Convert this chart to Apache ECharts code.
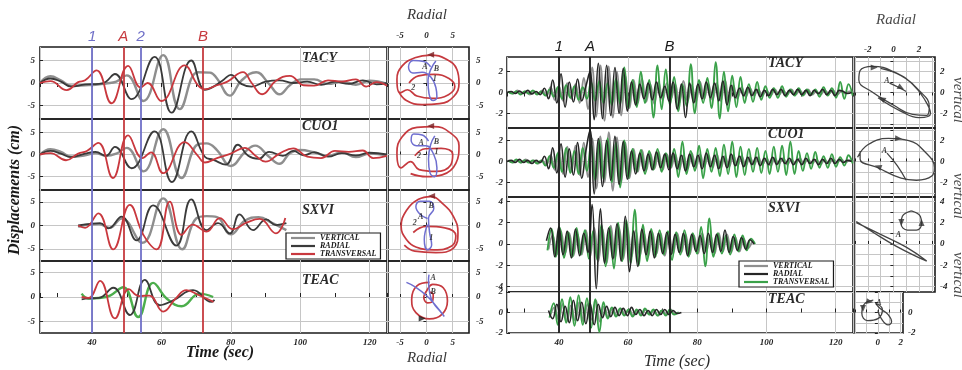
<!DOCTYPE html>
<html>
<head>
<meta charset="utf-8">
<script src="https://cdn.jsdelivr.net/npm/echarts@6/dist/echarts.min.js"></script>
<style>
html, body { margin: 0; padding: 0; background: #fff; }
#c { width: 962px; height: 370px; }
</style>
</head>
<body>
<div id="c"></div>
<script>
// ---------- shared data ----------
const stations = ['TACY', 'CUO1', 'SXVI', 'TEAC'];
const componentNames = ['VERTICAL', 'RADIAL', 'TRANSVERSAL'];
const timeRange = [25, 125];

// phase markers
const leftMarkTimes = [40, 49, 54, 72];
const leftMarkNames = ['1', 'A', '2', 'B'];
const rightMarkTimes = [40, 49, 72];
const rightMarkNames = ['1', 'A', 'B'];

// displacement axes (cm)
const leftRanges = [[-8, 8], [-8, 8], [-7.6, 7.6], [-7.4, 7.4]];
const leftTicks = [-5, 0, 5];
const rightRanges = [[-3.4, 3.4], [-3.4, 3.2], [-4.5, 4.4], [-2, 2]];
const rightTicks = [[-2, 0, 2], [-2, 0, 2], [-4, -2, 0, 2, 4], [-2, 0, 2]];
const rightPmLabels = [[-2, 0, 2], [-2, 0, 2], [-4, -2, 0, 2, 4], [-2, 0]];
const rightGridTicks = [[-3, -2, -1, 0, 1, 2, 3], [-3, -2, -1, 0, 1, 2, 3], [-4, -3, -2, -1, 0, 1, 2, 3, 4], [-2, -1, 0, 1, 2]];

// ---------- left event: [time s, displacement cm] ----------
const L_TACY_V = [[25,0],[28,1.5],[31,0.6],[34,-0.6],[38,-0.5],[41,-0.4],[44,-0.1],[47,0.3],[50,1.7],[54.8,-4.0],[60.5,6.2],[65.3,-5.8],[70.5,2.4],[74,2.3],[76,1.0],[79.7,-2.8],[83,0.5],[87.3,2.4],[91,-0.2],[94,-2.5],[97,-0.5],[100,0.8],[104,0.8],[108,-0.2],[112,0.3],[116,-0.4],[120,0.5],[125,-0.2]];
const L_TACY_R = [[25,0],[28,1.0],[31,0.3],[34,-0.8],[38,-0.3],[42,-0.2],[44,0.3],[46.6,2.0],[51.4,-3.6],[58,5.8],[62.9,-6.6],[68.6,5.0],[72.5,-1.5],[75,-0.8],[78,0.8],[80,1.8],[83,-0.2],[86,-0.8],[90,0.3],[94,0.6],[98,0.0],[102,0.3],[106,-0.4],[110,0.3],[114,-0.2],[118,0.6],[122,-0.3],[125,0]];
const L_TACY_T = [[25,0],[28,0.4],[32.7,-1.6],[36,0.2],[38,0.6],[41.3,2.8],[45.6,-4.5],[50.4,3.8],[54,-1.0],[56,0.0],[60,-4.0],[66.7,3.9],[70.5,-0.5],[72.5,-1.4],[76,-0.5],[79,0.3],[83.5,2.4],[86,0.0],[89,-2.5],[93,0.5],[97,1.6],[101,-0.5],[104,-0.6],[108,0.6],[112,0.3],[116,0.8],[119,-0.8],[122,0.2],[125,-0.6]];

const L_CUO1_V = [[25,0],[28,1.2],[31,0.6],[34,-0.5],[38,-0.2],[41,0.3],[44,-0.3],[47,0.2],[50,1.5],[54.8,-3.8],[60.5,5.7],[65.8,-5.3],[70.5,2.3],[73,2.5],[76,1.0],[80,-2.6],[84,0.5],[87,2.0],[91,-0.5],[94,-2.1],[97,0.3],[100,1.0],[104,0.5],[108,-0.3],[112,0.5],[116,-0.6],[120,0.2],[125,-0.2]];
const L_CUO1_R = [[25,0],[28,0.8],[31,0.2],[34,-0.6],[38,0.2],[41,0.6],[44,-0.3],[46.6,1.7],[51.4,-3.1],[58,5.2],[63,-6.2],[68.6,5.2],[72.5,-0.5],[75,-1.2],[78.5,-2.3],[82,2.2],[85,-0.3],[88,-1.0],[91,0.6],[95,-0.3],[98,0.8],[101,-0.2],[104,0.5],[108,-0.5],[112,0.3],[116,-0.2],[120,0.4],[125,0]];
const L_CUO1_T = [[25,0],[28,0.3],[32.5,-1.3],[36,0.2],[38.5,0.8],[41.8,2.6],[46,-5.3],[50.4,4.3],[54.5,-0.8],[57,0.5],[60.5,-4.2],[66.7,2.8],[70.5,-0.3],[72.5,-1.8],[76,-0.8],[80,0.2],[84,1.5],[87,-0.2],[90,-1.6],[94,0.2],[98,1.4],[102,-0.5],[106,-0.8],[110,0.8],[114,0.6],[118,0.9],[121,-0.8],[125,-0.3]];

const L_SXVI_V = [[36,-0.3],[39,0.2],[42,0.3],[45,-0.5],[48.5,1.5],[54.5,-3.7],[60.5,5.8],[66,-5.1],[70,1.5],[73,2.0],[76,1.8],[80,-1.9],[84,1.0],[88,1.8],[92,0.5],[96,-1.0]];
const L_SXVI_R = [[36,0],[39,0.3],[42.3,0.5],[44.7,-0.6],[48.5,1.9],[52.8,-3.2],[57.6,4.3],[64.3,-4.3],[68.6,5.6],[73,-1.0],[76.3,0.5],[79.7,-1.7],[82.5,2.4],[86.4,-1.0],[90.2,1.3],[93,0.1],[96,0.5]];
const L_SXVI_T = [[36,0],[38,-0.5],[41.8,2.6],[46.1,-5.1],[50.9,4.4],[54.8,-2.0],[58.6,-5.1],[62.4,5.1],[65.8,-2.0],[69,0.2],[73,-1.3],[76.8,1.6],[80.6,-0.8],[84.5,0.6],[88.3,1.4],[93,-1.7],[95.7,1.6]];

const L_TEAC_V = [[37,0.7],[39,-0.3],[42,-0.2],[45.2,0.3],[49,2.0],[53.3,-4.1],[57.6,2.9],[61.5,-0.3],[65.8,-1.9],[71,0.7],[74.9,0]];
const L_TEAC_R = [[37,-0.5],[39,-0.3],[42,-0.2],[46.1,1.9],[50.9,-3.7],[55.2,3.5],[59.5,-1.7],[63.4,-0.7],[69.1,1.4],[74.4,-1.0],[75.3,-0.6]];
const L_TEAC_T = [[37,0],[39,-0.2],[42.3,3.3],[46.6,-4.4],[50.6,1.6],[53.5,0.2],[56.5,0.3],[60.5,-3.0],[64,-0.4],[67.2,1.4],[71,0.3],[75,-1.0]];

// particle motion, left event: [radial, other component]
const LP_RED = [
  [[-3.3,0],[-1.5,1.6],[1.5,1.9],[4.3,1.0],[5.4,-0.8],[4.2,-2.6],[1.2,-3.4],[-1.8,-2.9],[-3.6,-1.5],[-5.0,-2.2],[-5.6,0.8],[-4.6,3.8],[-2.2,5.6],[0.8,6.2],[3.8,5.3],[5.8,3.0],[6.2,0],[5.2,-3.0],[2.5,-4.6],[-0.8,-4.8],[-3.8,-3.9],[-5.3,-1.8]],
  [[-2.2,-0.3],[-0.2,1.3],[2.8,1.4],[5.0,0],[4.6,-2.4],[1.8,-3.8],[-1.4,-3.4],[-3.0,-1.6],[-4.8,-3.0],[-5.6,0.4],[-4.6,4.0],[-1.8,6.1],[1.4,6.3],[4.4,5.0],[6.2,2.0],[5.6,-2.0],[3.0,-4.6],[0,-5.0],[-3.0,-4.3]],
  [[-2.5,-1.5],[0,-0.2],[3.5,-0.5],[5.6,-2.2],[4.8,-4.4],[1.5,-5.2],[-2,-4.6],[-3.8,-3],[-4.8,-0.2],[-3.8,3.2],[-1.5,5.6],[0.8,6.2],[3.2,4.6],[5.2,1.8],[6,-1.5],[5.2,-4.8],[1.8,-5.8],[-2.2,-5.5],[-4.2,-4.2]],
  [[0.6,3.0],[-1.8,2.3],[-2.8,-0.5],[-2.0,-3.2],[0.6,-4.5],[3.0,-3.5],[4.0,-0.8],[3.2,1.9],[1.2,2.6],[0,1.2],[-0.5,0],[0.2,-1.2],[1.2,-0.8],[1.3,0.5],[0.6,1.0]]
];
const LP_BLUE = [
  [[0.8,3.6],[-0.5,4.8],[-2.5,5.0],[-3.4,3.6],[-2.6,2.2],[-0.8,2.4],[0.8,1.4],[1.8,-1.0],[2.0,-3.2],[1.3,-3.9],[0.5,-2.4],[0.3,0.6],[0.9,3.2],[1.8,4.9]],
  [[0.4,3.0],[-0.8,4.4],[-2.4,4.6],[-2.9,3.2],[-1.9,2.0],[-0.1,2.0],[1.4,0],[2.0,-3.0],[1.6,-5.0],[0.7,-4.2],[0.4,-1.0],[0.8,2.2],[1.6,4.2]],
  [[0.2,1.5],[-1.2,2.4],[-2,4],[-1.2,5.2],[0.6,5.2],[1.4,3.6],[0.4,1.6],[0.6,-1.5],[1.0,-4.2],[0.2,-5.2],[-0.4,-3.0],[0.2,0.2]],
  [[-3.8,3.0],[-2.0,2.0],[0,0.3],[1.8,-1.8],[3.4,-4.0],[2.8,-3.2],[1.2,-1.0],[0.6,1.0],[0.4,3.6],[0.5,4.6]]
];
const LP_TAGS = [
  [['A',-0.3,3.6],['B',1.9,3.2],['1',1.6,0.8],['2',-2.5,-1.0]],
  [['A',-1.0,2.6],['B',1.9,2.9],['1',1.9,0.6],['2',-1.4,-0.4]],
  [['A',-1.1,1.9],['B',0.9,4.1],['1',0.9,-2.6],['2',-2.2,0.6]],
  [['A',1.3,4.0],['B',1.3,1.0]]
];
// arrow heads: [x, y, rotation deg]
const LP_ARROWS = [[[0.8,6.3,90]], [[0.8,6.4,90]], [[1.0,6.3,90]], [[-0.8,-4.4,-90]]];

// ---------- right event: uniformly sampled, 1.2 s step ----------
const R_DT = 1.2;
const R_STARTS = [[25.6,25.0,25.3],[25.6,25.0,25.3],[37.0,36.4,36.7],[37.5,37.0,37.3]];

const R_TACY_V = [0.1,-0.1,0.2,-0.1,0.1,-0.2,0.1,-0.1,0.2, -0.3,0.5,-0.7,0.6, -0.8,0.9,-0.6,0.8,-1.0,1.4,-1.6, 2.4,-2.3,2.6,-2.7,2.5,-2.4,2.0,-2.2,1.6,-1.5, 1.2,-1.0,1.3,-0.9,0.8,-1.1,1.0,-0.7,0.9,-0.6, 0.8,-1.0,1.1,-0.8,0.7,-0.9,1.0,-0.6,0.8,-0.7, 0.9,-0.8,1.2,-0.9,0.7,-0.6,0.5,-0.4,0.4,-0.3, 0.3,-0.3,0.2,-0.3,0.3,-0.2,0.2,-0.2,0.3,-0.2, 0.2,-0.2,0.3,-0.2,0.1,-0.2,0.2,-0.1,0.2,-0.2,0.1,-0.1,0.1,0];
const R_TACY_R = [0,0.1,-0.1,0.15,-0.1,0.2,-0.15,0.1,-0.2, 0.4,-0.6,1.2,-1.0, 1.8,-1.4,1.0,-0.9,1.3,-0.8,0.6, 2.0,-2.6,2.8,-2.5,2.6,-2.2,2.4,-2.0,2.3,-1.8, 1.0,-1.2,0.8,-0.6,0.9,-0.7,1.0,-0.5,0.6,-0.8, 1.0,-1.6,0.8,-2.4,0.9,-1.0,0.8,-0.6,1.0,-0.5, 0.9,-0.8,1.1,-1.2,0.7,-0.5,0.4,-0.3,0.5,-0.3, 0.3,-0.4,0.2,-0.3,0.3,-0.2,0.3,-0.3,0.2,-0.2, 0.3,-0.2,0.2,-0.3,0.2,-0.1,0.3,-0.2,0.2,-0.3,0.2,0.1,-0.1,0.0];
const R_TACY_T = [0.1,-0.1,0.1,-0.2,0.1,-0.1,0.2,-0.2,0.1, -0.3,0.3,-0.4,0.5, -0.6,0.7,-0.5,0.6,-0.7,0.5,-0.6, 1.0,-0.8,1.1,-1.0,0.9,-1.2,1.3,-1.1,2.4,-1.5, 1.2,-1.4,2.0,-1.0,1.2,-2.4,2.6,-1.6,2.2,-1.2, 1.5,-1.8,0.8,-1.3,2.7,-2.0,1.2,-1.0,1.4,-1.5, 2.9,-2.5,2.0,-1.8,1.6,-1.4,1.5,-1.0,0.8,-0.9, 1.0,-0.7,0.6,-0.5,0.4,-0.5,0.6,-0.4,0.3,-0.3, 0.4,-0.3,0.3,-0.2,0.3,-0.4,0.5,-0.3,0.4,-0.5,1.0,-0.6,0.8,-0.3];

const R_CUO1_V = [0.1,-0.1,0.1,-0.1,0.2,-0.1,0.1,-0.2,0.1, -0.3,0.6,-0.8,1.0, -1.2,1.4,-1.0,1.5,-1.3,1.8,-1.5, 2.2,-2.6,2.4,-2.0,2.8,-2.8,2.3,-2.0,1.8,-1.6, 1.2,-1.0,1.1,-0.9,0.8,-0.7,0.9,-0.8,0.7,-0.6, 0.7,-0.8,0.6,-0.7,0.8,-0.6,0.7,-0.5,0.6,-0.6, 0.7,-0.6,0.5,-0.5,0.6,-0.4,0.5,-0.4,0.4,-0.3, 0.4,-0.3,0.3,-0.4,0.3,-0.2,0.3,-0.3,0.2,-0.2, 0.3,-0.2,0.2,-0.2,0.2,-0.3,0.2,-0.2,0.2,-0.1,0.2,-0.1,0.1,0];
const R_CUO1_R = [0,0.1,-0.1,0.2,-0.1,0.1,-0.2,0.1,-0.1, 0.5,-0.7,1.3,-1.1, 1.7,-1.5,1.2,-1.3,1.8,-1.6,1.0, 3.0,-3.1,2.2,-2.4,2.0,-1.8,2.4,-2.2,1.9,-1.7, 1.0,-1.2,0.8,-0.9,0.7,-0.8,0.9,-0.6,0.7,-0.8, 0.8,-0.7,0.6,-0.9,0.7,-0.5,0.6,-0.7,0.8,-0.5, 0.6,-0.7,0.5,-0.6,0.7,-0.4,0.5,-0.5,0.4,-0.3, 0.4,-0.4,0.3,-0.3,0.4,-0.3,0.3,-0.2,0.3,-0.3, 0.2,-0.3,0.3,-0.2,0.2,-0.3,0.2,-0.2,0.3,-0.2,0.2,-0.1,0.1,0];
const R_CUO1_T = [0.1,-0.1,0.2,-0.1,0.1,-0.1,0.1,-0.2,0.1, -0.4,0.5,-0.6,0.8, -1.0,1.3,-1.1,1.0,-1.2,1.3,-0.9, 1.6,-1.8,2.0,-1.7,2.2,-2.0,1.8,-2.5,2.0,-1.6, 1.2,-1.0,1.1,-1.2,1.0,-0.8,1.2,-1.0,0.8,-0.7, 1.2,-1.5,1.9,-1.2,1.0,-0.9,1.5,-1.6,1.2,-1.0, 1.3,-1.4,1.6,-1.2,1.9,-1.5,1.4,-1.3,1.2,-1.0, 1.3,-1.1,1.0,-1.2,1.4,-1.0,1.5,-1.3,1.9,-1.2, 1.0,-0.9,0.8,-0.7,0.9,-0.6,0.5,-0.6,0.7,-0.5,0.4,-0.4,0.6,-0.2];

const R_SXVI_V = [-0.5,0.8,-1.0,1.2,-0.9,1.0,-1.1,0.9,-1.0,1.3,-1.2, 1.5,-1.6,1.4,-1.8,1.7,-1.3,1.5,-1.4,1.6,-1.2, 1.3,-1.1,1.0,-1.2,1.1,-0.9,1.0,-1.1,0.8,-0.9, 1.0,-0.8,0.9,-1.0,0.8,-0.9,1.0,-0.7,0.8,-0.9, 1.0,-0.7,0.9,-0.8,0.6,-0.7,0.5,-0.4,0.2];
const R_SXVI_R = [0.3,1.5,-1.2,1.6,-1.0,1.2,-1.3,1.4,-1.1,1.0,-0.8, 3.7,-4.2,3.3,-1.8,1.5,-1.4,1.9,-1.6,2.6,-2.6, 1.2,-2.1,1.4,-1.0,1.2,-1.3,1.0,-0.9,1.1,-1.0, 0.9,-0.8,1.0,-1.1,0.9,-0.7,0.8,-0.9,1.0,-0.8, 0.9,-0.7,1.3,-0.8,0.7,-0.6,0.6,-0.5,0.4,0.0];
const R_SXVI_T = [-0.6,1.4,-1.2,1.5,-1.3,1.1,-1.2,1.5,-1.0,1.3,-1.4, 1.2,-1.5,1.8,-2.1,1.6,-2.3,2.0,-1.6,2.2,-1.8, 3.2,-2.0,1.8,-1.6,1.4,-1.2,1.3,-1.0,1.2,-1.5, 1.1,-1.0,1.3,-1.2,1.0,-0.9,1.6,-2.1,2.4,-1.2, 1.0,-0.9,0.8,-1.0,0.9,-0.7,0.8,-0.6,0.5,0.0];

const R_TEAC_V = [-0.3,0.5,-0.7,0.8,-0.9,0.7,-0.8,1.0,-0.9,0.8,-0.7,1.2, -0.9,0.6,-0.5,0.4,-0.3,0.4,-0.2,0.3,-0.3,0.2, -0.2,0.3,-0.2,0.2,-0.3,0.2,-0.2,0.3,-0.1,0.0];
const R_TEAC_R = [0.2,-0.6,0.8,-0.9,0.6,-1.0,1.2,-0.8,1.0,-1.1,0.9,-1.2, 0.8,-0.5,0.6,-0.4,0.5,-0.3,0.4,-0.3,0.5,-0.2, 0.3,-0.3,0.2,-0.3,0.3,-0.2,0.3,-0.2,0.2,-0.1,0.0];
const R_TEAC_T = [-0.5,0.9,-1.2,1.3,-1.0,1.5,-1.3,1.7,-1.2,1.4,-1.5,1.3, -1.9,1.0,-0.6,0.5,-0.4,0.4,-0.3,0.3,-0.4,0.3, -0.3,0.4,-0.2,0.3,-0.3,0.2,-0.3,0.3,-0.2,0.0];

// particle motion, right event: radial vs vertical
const RP_PATHS = [
  [[[-1.0,2.3],[0.6,1.6],[2.0,0.2],[2.8,-1.3],[2.6,-2.2],[1.5,-2.1],[0,-1.2],[-1.6,0],[-2.7,1.2],[-2.6,2.1],[-1.6,2.5],[0,2.0],[1.5,0.8],[2.5,-0.8],[2.9,-2.0],[2.0,-2.4],[0.6,-1.8],[-1.2,-0.5]], [[-0.3,0.9],[0.4,0.5],[1.0,0.1]]],
  [[[-2.8,0.4],[-2.0,1.6],[-0.4,2.2],[1.2,2.0],[2.4,1.0],[3.2,-0.6],[3.0,-1.4],[1.8,-1.8],[0.6,-1.6],[-1.2,-0.6],[-2.6,0.2],[-2.6,1.0]], [[-0.5,0.8],[0.3,-0.4],[1.0,-1.8]]],
  [[[-2.9,2.0],[-1.0,0.9],[1.0,-0.3],[2.6,-1.6],[2.2,-1.4],[0.2,-0.2],[-1.6,1.1],[-2.9,2.1]], [[1.4,3.1],[0.7,2.6],[0.6,1.9],[1.1,1.3],[1.8,1.3],[2.2,1.9],[2.1,2.6],[1.4,3.1]]],
  [[[-0.4,1.2],[-1.2,0.8],[-1.4,-0.1],[-0.9,-0.8],[0,-0.6],[0.4,0.3],[-0.2,0.9],[0.2,0.4],[0.9,-0.2],[1.2,-0.9],[0.9,-1.2],[0.3,-0.6],[0,0.2]]]
];
const RP_TAGS = [[['A',-0.5,1.1]], [['A',-0.7,1.0]], [['A',0.4,0.8]], [['A',0.1,0.9]]];
const RP_ARROWS = [
  [[-1.5,2.4,-90],[0.6,0.45,-120],[-0.9,-0.6,60]],
  [[0.4,2.2,-95],[-1.2,-0.5,70]],
  [[0.62,2.0,180],[2.2,2.0,0]],
  [[-1.3,0.4,180],[-0.7,1.05,-100]]
];

// ---------- layout ----------
const FONT = "'Liberation Serif', 'DejaVu Serif', serif";
const tickFont = { fontFamily: FONT, fontStyle: 'italic', fontWeight: 'bold', fontSize: 9, color: '#1e1e1e' };
const gridLine = { show: true, lineStyle: { color: '#c6c6c6', width: 1 } };
const Lx = [40, 387], Lpx = [388, 469], Lrows = [47, 119, 190, 261, 333];
const Rx = [507, 853], Rpx = [855, 935], RpxTeac = 903, Rrows = [57, 128, 197, 292, 333];

const leftColors = ['#8e8e8e', '#3a3a3a', '#c9383e'];
const leftTeacVertical = '#4cae4c';
const rightColors = ['#8f8f8f', '#262626', '#3aa149'];
const blueMark = '#7070c8', redMark = '#c63a3f';

const grids = [], xAxes = [], yAxes = [], series = [];

function addGrid(l, t, r, b) {
  grids.push({ left: l, top: t, width: r - l, height: b - t, show: true, borderColor: '#1b1b1b', borderWidth: 1.6,
    backgroundColor: 'transparent', containLabel: false, outerBoundsMode: 'none' });
  return grids.length - 1;
}
function timeAxis(gi, position, showLabels, showTicks) {
  return { type: 'value', gridIndex: gi, min: timeRange[0], max: timeRange[1], position,
    axisLine: { show: false },
    axisTick: { show: showTicks, inside: true, length: 4, lineStyle: { color: '#222' } },
    minorTick: { show: showTicks, splitNumber: 2, length: 4, lineStyle: { color: '#222' } },
    axisLabel: { show: showLabels, showMinLabel: false, showMaxLabel: false, margin: 5, ...tickFont },
    splitLine: gridLine, minorSplitLine: { show: false } };
}
function valAxis(gi, range, ticks, labels, position, margin, showLabels) {
  return { type: 'value', gridIndex: gi, min: range[0], max: range[1], position,
    axisLine: { show: false },
    axisTick: { show: true, inside: true, length: 3, customValues: ticks, lineStyle: { color: '#222' } },
    axisLabel: { show: showLabels, customValues: labels, margin, ...tickFont },
    splitLine: gridLine };
}
function line(gi, name, data, color, width, z) {
  series.push({ type: 'line', name, xAxisIndex: gi, yAxisIndex: gi, data, smooth: 0.45,
    symbol: 'none', showSymbol: false, lineStyle: { color, width }, itemStyle: { color },
    z: z || 2, silent: true, animation: false });
}
function markers(gi, times, names, colors, showLabel, labelFont) {
  series.push({ type: 'line', xAxisIndex: gi, yAxisIndex: gi, data: [], silent: true, animation: false, z: 3,
    markLine: { symbol: ['none', 'none'], silent: true, animation: false,
      lineStyle: { type: 'solid', width: 1.8 },
      label: { show: showLabel, position: 'end', distance: 3, formatter: p => p.name, ...labelFont },
      data: times.map((t, i) => ({ xAxis: t, name: names[i], lineStyle: { color: colors[i] }, label: { color: colors[i] } })) } });
}
function arrows(gi, pts, color) {
  series.push({ type: 'scatter', xAxisIndex: gi, yAxisIndex: gi, symbol: 'triangle', symbolSize: [6, 7],
    data: pts.map(p => ({ value: [p[0], p[1]], symbolRotate: p[2] })), itemStyle: { color }, z: 5, silent: true, animation: false });
}
function tags(gi, pts) {
  series.push({ type: 'scatter', xAxisIndex: gi, yAxisIndex: gi, symbolSize: 1, itemStyle: { color: 'transparent' },
    data: pts.map(p => ({ value: [p[1], p[2]], name: p[0] })),
    label: { show: true, position: 'inside', formatter: '{b}', fontFamily: FONT, fontStyle: 'italic', fontWeight: 'bold', fontSize: 8, color: '#111' },
    z: 6, silent: true, animation: false });
}

// ----- left seismograms -----
const leftTraces = [[L_TACY_V, L_TACY_R, L_TACY_T], [L_CUO1_V, L_CUO1_R, L_CUO1_T], [L_SXVI_V, L_SXVI_R, L_SXVI_T], [L_TEAC_V, L_TEAC_R, L_TEAC_T]];
const leftMarkColors = [blueMark, redMark, blueMark, redMark];
for (let k = 0; k < 4; k++) {
  const gi = addGrid(Lx[0], Lrows[k], Lx[1], Lrows[k + 1]);
  xAxes.push(timeAxis(gi, k === 0 ? 'top' : 'bottom', k === 3, k === 0 || k === 3));
  yAxes.push(valAxis(gi, leftRanges[k], leftTicks, leftTicks, 'left', 5, true));
  markers(gi, leftMarkTimes, leftMarkNames, leftMarkColors, k === 0,
    { fontFamily: "'Liberation Sans', Arial, sans-serif", fontStyle: 'italic', fontSize: 15 });
  const tr = leftTraces[k];
  line(gi, componentNames[0], tr[0], k === 3 ? leftTeacVertical : leftColors[0], 2.4, 2);
  line(gi, componentNames[1], tr[1], leftColors[1], 1.8, 2);
  line(gi, componentNames[2], tr[2], leftColors[2], 1.8, 2);
}
// ----- left particle motion -----
for (let k = 0; k < 4; k++) {
  const gi = addGrid(Lpx[0], Lrows[k], Lpx[1], Lrows[k + 1]);
  xAxes.push(valAxis(gi, [-7.3, 8.1], leftTicks, leftTicks, k === 0 ? 'top' : 'bottom', k === 0 ? 7 : 5, k === 0 || k === 3));
  yAxes.push(valAxis(gi, leftRanges[k], leftTicks, leftTicks, 'right', 7, true));
  line(gi, 'red-pm', LP_RED[k], '#c63a3f', 1.7, 3);
  line(gi, 'blue-pm', LP_BLUE[k], '#6f6fd0', 1.5, 4);
  arrows(gi, LP_ARROWS[k], k === 3 ? '#1a1a1a' : '#7a1f22');
  tags(gi, LP_TAGS[k]);
}

// ----- right seismograms -----
const rightTraces = [[R_TACY_V, R_TACY_R, R_TACY_T], [R_CUO1_V, R_CUO1_R, R_CUO1_T], [R_SXVI_V, R_SXVI_R, R_SXVI_T], [R_TEAC_V, R_TEAC_R, R_TEAC_T]];
for (let k = 0; k < 4; k++) {
  const gi = addGrid(Rx[0], Rrows[k], Rx[1], Rrows[k + 1]);
  xAxes.push(timeAxis(gi, k === 0 ? 'top' : 'bottom', k === 3, k === 0 || k === 3));
  yAxes.push(valAxis(gi, rightRanges[k], rightTicks[k], rightTicks[k], 'left', 4, true));
  markers(gi, rightMarkTimes, rightMarkNames, ['#1a1a1a', '#1a1a1a', '#1a1a1a'], k === 0,
    { fontFamily: "'Liberation Sans', Arial, sans-serif", fontStyle: 'italic', fontSize: 15 });
  const tr = rightTraces[k];
  const order = [0, 2, 1];
  order.forEach(c => {
    const data = tr[c].map((v, i) => [+(R_STARTS[k][c] + i * R_DT).toFixed(2), v]);
    line(gi, componentNames[c], data, rightColors[c], c === 1 ? 1.6 : 1.9, 2);
  });
}
// ----- right particle motion -----
for (let k = 0; k < 4; k++) {
  const right = k === 3 ? RpxTeac : Rpx[1];
  const gi = addGrid(Rpx[0], Rrows[k], right, Rrows[k + 1]);
  const xr = k === 3 ? [-2, 2.2] : [-3, 3.25];
  const xg = k === 3 ? [-2, -1, 0, 1, 2] : [-3, -2, -1, 0, 1, 2, 3];
  const xl = k === 3 ? [0, 2] : [-2, 0, 2];
  xAxes.push(valAxis(gi, xr, xg, xl, k === 0 ? 'top' : 'bottom', k === 0 ? 3 : 5, k === 0 || k === 3));
  yAxes.push(valAxis(gi, rightRanges[k], rightGridTicks[k], rightPmLabels[k], 'right', 5, true));
  RP_PATHS[k].forEach(p => line(gi, 'pm', p, '#444', 1.3, 3));
  arrows(gi, RP_ARROWS[k], '#333');
  tags(gi, RP_TAGS[k]);
}

// ----- text -----
const serif = (size, weight, style) => `${style || 'italic'} ${weight || 'bold'} ${size}px ${FONT}`;
const graphic = [
  { type: 'text', x: 15, y: 190, rotation: Math.PI / 2, style: { text: 'Displacements (cm)', font: serif(16), fill: '#1a1a1a', align: 'center', verticalAlign: 'middle' } },
  { type: 'text', x: 220, y: 353, style: { text: 'Time (sec)', font: serif(16), fill: '#1a1a1a', align: 'center', verticalAlign: 'middle' } },
  { type: 'text', x: 677, y: 362, style: { text: 'Time (sec)', font: serif(16, 'normal'), fill: '#2a2a2a', align: 'center', verticalAlign: 'middle' } },
  { type: 'text', x: 427, y: 15, style: { text: 'Radial', font: serif(15, 'normal'), fill: '#3a3a3a', align: 'center', verticalAlign: 'middle' } },
  { type: 'text', x: 427, y: 358, style: { text: 'Radial', font: serif(15, 'normal'), fill: '#3a3a3a', align: 'center', verticalAlign: 'middle' } },
  { type: 'text', x: 896, y: 20, style: { text: 'Radial', font: serif(15, 'normal'), fill: '#4a4a4a', align: 'center', verticalAlign: 'middle' } }
];
const leftLabelY = [58, 126, 210, 280], rightLabelY = [63, 134, 208, 299];
stations.forEach((s, k) => {
  graphic.push({ type: 'text', x: 302, y: leftLabelY[k], style: { text: s, font: serif(14), fill: '#2a2a2a', align: 'left', verticalAlign: 'middle' } });
  graphic.push({ type: 'text', x: 768, y: rightLabelY[k], style: { text: s, font: serif(14), fill: '#2a2a2a', align: 'left', verticalAlign: 'middle' } });
});
[100, 196, 275].forEach(y => {
  graphic.push({ type: 'text', x: 958, y, rotation: -Math.PI / 2, style: { text: 'vertical', font: serif(15, 'normal'), fill: '#4a4a4a', align: 'center', verticalAlign: 'middle' } });
});

const legendText = { fontFamily: FONT, fontStyle: 'italic', fontWeight: 'bold', fontSize: 8, lineHeight: 7, color: '#1a1a1a' };
const legendBase = { orient: 'vertical', itemGap: 0, itemHeight: 2.2, itemWidth: 24, padding: [1, 4, 1, 5],
  borderColor: '#1a1a1a', borderWidth: 1.2, backgroundColor: '#fff', textStyle: legendText, selectedMode: false, z: 10 };
const legends = [
  { ...legendBase, left: 286, top: 233,
    data: componentNames.map((n, i) => ({ name: n, icon: 'rect', itemStyle: { color: leftColors[i] } })) },
  { ...legendBase, left: 739, top: 261,
    data: componentNames.map((n, i) => ({ name: n, icon: 'rect', itemStyle: { color: rightColors[i] } })) }
];

const chart = echarts.init(document.getElementById('c'), null, { renderer: 'canvas', width: 962, height: 370 });
chart.setOption({
  animation: false,
  backgroundColor: '#fff',
  grid: grids, xAxis: xAxes, yAxis: yAxes, series,
  legend: legends, graphic
});
</script>
</body>
</html>
